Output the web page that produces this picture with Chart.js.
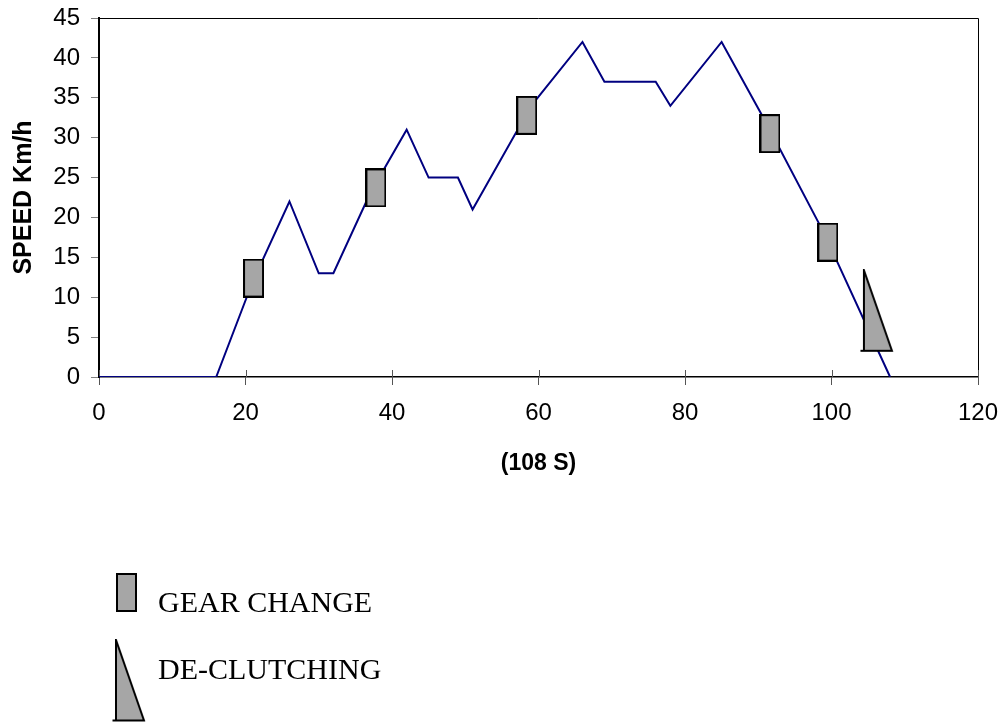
<!DOCTYPE html>
<html><head><meta charset="utf-8">
<script src="https://cdn.jsdelivr.net/npm/chart.js@4"></script>
<style>html,body{margin:0;padding:0;background:#fff;} #wrap{position:relative;width:1008px;height:725px;}</style>
</head><body><div id="wrap"><canvas id="c" width="1008" height="725"></canvas></div>
<script>
// ---- data ----
const timeSec   = [0, 16, 21, 26, 30, 32, 37, 42, 45, 49, 51, 59, 66, 69, 76, 78, 85, 91, 99, 108];
const speedKmh  = [0,  0, 12, 22, 13, 13, 23, 31, 25, 25, 21, 34, 42, 37, 37, 34, 42, 32, 18, 0];
const gearChangeTime  = [21.1, 37.8, 58.4, 91.6, 99.5];
const gearChangeSpeed = [12.4, 23.7, 32.8, 30.5, 16.9];
const declutchTime  = [106.2];
const declutchSpeed = [8.3];
const xTicks = [0, 20, 40, 60, 80, 100, 120];
const yTicks = [0, 5, 10, 15, 20, 25, 30, 35, 40, 45];
const xTitle = '(108 S)';
const yTitle = 'SPEED Km/h';
const legendLabels = ['GEAR CHANGE', 'DE-CLUTCHING'];

// ---- marker icons ----
const GRAY = '#a6a6a6';
function makeGearIcon(){
  const c = document.createElement('canvas'); c.width = 21; c.height = 39;
  const g = c.getContext('2d');
  g.fillStyle = GRAY; g.fillRect(1, 1, 19, 37);
  g.strokeStyle = '#000'; g.lineWidth = 2; g.strokeRect(1, 1, 19, 37);
  return c;
}
function makeDeclutchIcon(){
  const c = document.createElement('canvas'); c.width = 34; c.height = 84;
  const g = c.getContext('2d');
  g.beginPath(); g.moveTo(4, 1.5); g.lineTo(4, 82); g.lineTo(32, 82); g.closePath();
  g.fillStyle = GRAY; g.fill();
  g.strokeStyle = '#000'; g.lineWidth = 2; g.lineJoin = 'miter'; g.stroke();
  g.beginPath(); g.moveTo(0.5, 82); g.lineTo(5, 82); g.stroke();
  return c;
}
const gearIcon = makeGearIcon();
const declutchIcon = makeDeclutchIcon();

const framePlugin = {
  id: 'frame',
  beforeDatasetsDraw(chart){
    const {ctx, chartArea: a, scales: {x}} = chart;
    ctx.save();
    ctx.strokeStyle = '#000'; ctx.lineWidth = 1;
    ctx.beginPath();
    ctx.moveTo(a.left, Math.round(a.top) + 0.5);
    ctx.lineTo(Math.round(a.right) + 0.5, Math.round(a.top) + 0.5);
    ctx.lineTo(Math.round(a.right) + 0.5, a.bottom);
    ctx.stroke();
    ctx.strokeStyle = '#555';
    x.ticks.forEach(t => {
      const px = Math.round(x.getPixelForValue(t.value)) + 0.5;
      ctx.beginPath(); ctx.moveTo(px, a.bottom); ctx.lineTo(px, a.bottom - 7); ctx.stroke();
    });
    ctx.restore();
  },
  afterDraw(chart){
    const ctx = chart.ctx;
    ctx.save();
    ctx.drawImage(gearIcon, 116, 573);
    ctx.drawImage(declutchIcon, 112, 638.5);
    ctx.fillStyle = '#000';
    ctx.font = "30px 'Liberation Serif', 'Times New Roman', serif";
    ctx.textBaseline = 'alphabetic'; ctx.textAlign = 'left';
    ctx.fillText(legendLabels[0], 158, 611.5);
    ctx.fillText(legendLabels[1], 158, 679);
    ctx.restore();
  }
};

Chart.defaults.font.family = "'Liberation Sans', Arial, sans-serif";
Chart.defaults.color = '#000';

new Chart(document.getElementById('c'), {
  type: 'scatter',
  data: {
    datasets: [
      {
        label: legendLabels[1],
        data: declutchTime.map((t, i) => ({x: t, y: declutchSpeed[i]})),
        pointStyle: declutchIcon, pointRadius: 10, showLine: false
      },
      {
        label: legendLabels[0],
        data: gearChangeTime.map((t, i) => ({x: t, y: gearChangeSpeed[i]})),
        pointStyle: gearIcon, pointRadius: 10, showLine: false
      },
      {
        label: 'speed',
        data: timeSec.map((t, i) => ({x: t, y: speedKmh[i]})),
        showLine: true, borderColor: '#000080', borderWidth: 2, pointRadius: 0,
        tension: 0, fill: false
      }
    ]
  },
  options: {
    responsive: false, animation: false, devicePixelRatio: 1,
    layout: {padding: {top: 18, right: 30, bottom: 248, left: 0}},
    plugins: {legend: {display: false}, tooltip: {enabled: false}},
    scales: {
      x: {
        type: 'linear', min: xTicks[0], max: xTicks[xTicks.length - 1],
        afterBuildTicks: s => { s.ticks = xTicks.map(v => ({value: v})); },
        afterFit: s => { s.height = 100; s.paddingLeft = 0; s.paddingRight = 0; s.paddingTop = 0; s.paddingBottom = 0; },
        grid: {display: true, drawOnChartArea: false, drawTicks: true, tickLength: 8, color: '#555', lineWidth: 1},
        border: {display: true, color: '#000', width: 1.5},
        ticks: {font: {size: 24}, padding: 14, color: '#000', maxRotation: 0},
        title: {display: true, text: xTitle, font: {size: 23, weight: 'bold'}, padding: {top: 0, bottom: 0}, color: '#000'}
      },
      y: {
        type: 'linear', min: yTicks[0], max: yTicks[yTicks.length - 1],
        afterBuildTicks: s => { s.ticks = yTicks.map(v => ({value: v})); },
        afterFit: s => { s.width = 99; s.paddingTop = 0; s.paddingBottom = 0; s.paddingLeft = 0; s.paddingRight = 0; },
        grid: {display: true, drawOnChartArea: false, drawTicks: true, tickLength: 8, color: '#808080', lineWidth: 1},
        border: {display: true, color: '#000', width: 2},
        ticks: {font: {size: 24}, padding: 11, color: '#000'},
        title: {display: true, text: yTitle, font: {size: 25, weight: 'bold'}, padding: {top: 9, bottom: 0}, color: '#000'}
      }
    }
  },
  plugins: [framePlugin]
});
</script></body></html>
